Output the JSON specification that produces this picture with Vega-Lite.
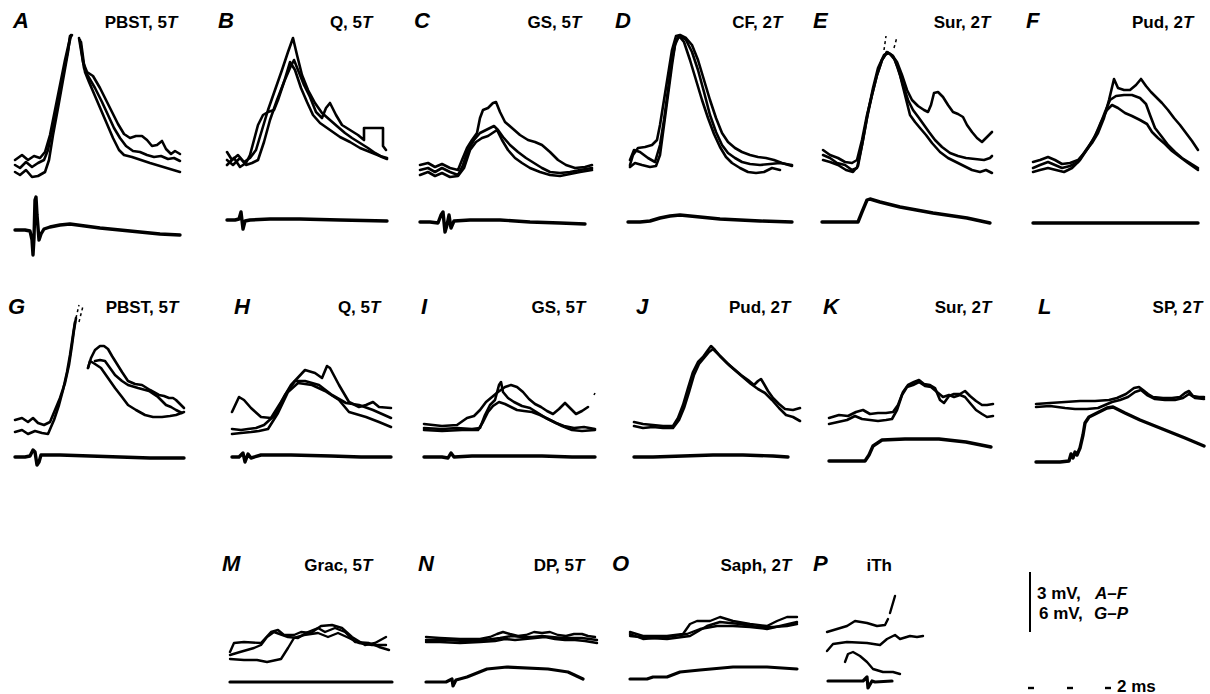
{
"$schema":"https://vega.github.io/schema/vega-lite/v6.json",
"padding":0,
"background":"white",
"config":{"view":{"stroke":null},"concat":{"spacing":4}},
"data":{"values":[
{"p":"A","k":"lt","t":13,"v":28,"tx":"A"},
{"p":"A","k":"tm","t":167,"v":28,"tx":"PBST, 5"},
{"p":"A","k":"ts","t":167,"v":28,"tx":"T"},
{"p":"B","k":"lt","t":18,"v":28,"tx":"B"},
{"p":"B","k":"tm","t":162,"v":28,"tx":"Q, 5"},
{"p":"B","k":"ts","t":162,"v":28,"tx":"T"},
{"p":"C","k":"lt","t":14,"v":28,"tx":"C"},
{"p":"C","k":"tm","t":171,"v":28,"tx":"GS, 5"},
{"p":"C","k":"ts","t":171,"v":28,"tx":"T"},
{"p":"D","k":"lt","t":15,"v":28,"tx":"D"},
{"p":"D","k":"tm","t":172,"v":28,"tx":"CF, 2"},
{"p":"D","k":"ts","t":172,"v":28,"tx":"T"},
{"p":"E","k":"lt","t":13,"v":28,"tx":"E"},
{"p":"E","k":"tm","t":180,"v":28,"tx":"Sur, 2"},
{"p":"E","k":"ts","t":180,"v":28,"tx":"T"},
{"p":"F","k":"lt","t":26,"v":28,"tx":"F"},
{"p":"F","k":"tm","t":183,"v":28,"tx":"Pud, 2"},
{"p":"F","k":"ts","t":183,"v":28,"tx":"T"},
{"p":"G","k":"lt","t":8,"v":314,"tx":"G"},
{"p":"G","k":"tm","t":168,"v":313,"tx":"PBST, 5"},
{"p":"G","k":"ts","t":168,"v":313,"tx":"T"},
{"p":"H","k":"lt","t":33,"v":314,"tx":"H"},
{"p":"H","k":"tm","t":169,"v":313,"tx":"Q, 5"},
{"p":"H","k":"ts","t":169,"v":313,"tx":"T"},
{"p":"I","k":"lt","t":19,"v":314,"tx":"I"},
{"p":"I","k":"tm","t":173,"v":313,"tx":"GS, 5"},
{"p":"I","k":"ts","t":173,"v":313,"tx":"T"},
{"p":"J","k":"lt","t":33,"v":314,"tx":"J"},
{"p":"J","k":"tm","t":177,"v":313,"tx":"Pud, 2"},
{"p":"J","k":"ts","t":177,"v":313,"tx":"T"},
{"p":"K","k":"lt","t":19,"v":314,"tx":"K"},
{"p":"K","k":"tm","t":177,"v":313,"tx":"Sur, 2"},
{"p":"K","k":"ts","t":177,"v":313,"tx":"T"},
{"p":"L","k":"lt","t":33,"v":314,"tx":"L"},
{"p":"L","k":"tm","t":187,"v":313,"tx":"SP, 2"},
{"p":"L","k":"ts","t":187,"v":313,"tx":"T"},
{"p":"0","k":"lt","t":0,"v":560,"tx":""},
{"p":"M","k":"lt","t":22,"v":567,"tx":"M"},
{"p":"M","k":"tm","t":162,"v":567,"tx":"Grac, 5"},
{"p":"M","k":"ts","t":162,"v":567,"tx":"T"},
{"p":"N","k":"lt","t":18,"v":567,"tx":"N"},
{"p":"N","k":"tm","t":174,"v":567,"tx":"DP, 5"},
{"p":"N","k":"ts","t":174,"v":567,"tx":"T"},
{"p":"O","k":"lt","t":12,"v":567,"tx":"O"},
{"p":"O","k":"tm","t":181,"v":567,"tx":"Saph, 2"},
{"p":"O","k":"ts","t":181,"v":567,"tx":"T"},
{"p":"P","k":"lt","t":13,"v":567,"tx":"P"},
{"p":"P","k":"tm","t":92,"v":567,"tx":"iTh"},
{"p":"Z","k":"bar","t":30,"v":568,"v2":628},
{"p":"Z","k":"sn","t":37,"v":595,"tx":"3 mV,"},
{"p":"Z","k":"si","t":95,"v":595,"tx":"A–F"},
{"p":"Z","k":"sn","t":39,"v":615,"tx":"6 mV,"},
{"p":"Z","k":"si","t":94,"v":615,"tx":"G–P"},
{"p":"Z","k":"dot","t":31,"v":684},
{"p":"Z","k":"dot","t":70,"v":684},
{"p":"Z","k":"dot","t":108,"v":684},
{"p":"Z","k":"sn","t":117,"v":688,"tx":"2 ms"},

{"p":"A","k":"tr","s":"a1r","t":15,"v":160},{"p":"A","k":"tr","s":"a1r","t":22,"v":155},{"p":"A","k":"tr","s":"a1r","t":28,"v":160},{"p":"A","k":"tr","s":"a1r","t":34,"v":156},{"p":"A","k":"tr","s":"a1r","t":40,"v":158},{"p":"A","k":"tr","s":"a1r","t":45,"v":152},{"p":"A","k":"tr","s":"a1r","t":50,"v":135},{"p":"A","k":"tr","s":"a1r","t":55,"v":110},{"p":"A","k":"tr","s":"a1r","t":60,"v":85},{"p":"A","k":"tr","s":"a1r","t":65,"v":60},{"p":"A","k":"tr","s":"a1r","t":70,"v":38},{"p":"A","k":"tr","s":"a1r","t":72,"v":35},
{"p":"A","k":"tr","s":"a1f","t":79,"v":38},{"p":"A","k":"tr","s":"a1f","t":83,"v":62},{"p":"A","k":"tr","s":"a1f","t":87,"v":72},{"p":"A","k":"tr","s":"a1f","t":93,"v":76},{"p":"A","k":"tr","s":"a1f","t":100,"v":88},{"p":"A","k":"tr","s":"a1f","t":106,"v":100},{"p":"A","k":"tr","s":"a1f","t":112,"v":112},{"p":"A","k":"tr","s":"a1f","t":118,"v":124},{"p":"A","k":"tr","s":"a1f","t":124,"v":134},{"p":"A","k":"tr","s":"a1f","t":130,"v":138},{"p":"A","k":"tr","s":"a1f","t":136,"v":136},{"p":"A","k":"tr","s":"a1f","t":142,"v":136},{"p":"A","k":"tr","s":"a1f","t":147,"v":140},{"p":"A","k":"tr","s":"a1f","t":152,"v":146},{"p":"A","k":"tr","s":"a1f","t":157,"v":145},{"p":"A","k":"tr","s":"a1f","t":162,"v":141},{"p":"A","k":"tr","s":"a1f","t":166,"v":149},{"p":"A","k":"tr","s":"a1f","t":171,"v":154},{"p":"A","k":"tr","s":"a1f","t":175,"v":151},{"p":"A","k":"tr","s":"a1f","t":180,"v":154},
{"p":"A","k":"tr","s":"a2r","t":15,"v":165},{"p":"A","k":"tr","s":"a2r","t":20,"v":168},{"p":"A","k":"tr","s":"a2r","t":26,"v":162},{"p":"A","k":"tr","s":"a2r","t":32,"v":167},{"p":"A","k":"tr","s":"a2r","t":38,"v":163},{"p":"A","k":"tr","s":"a2r","t":44,"v":160},{"p":"A","k":"tr","s":"a2r","t":48,"v":150},{"p":"A","k":"tr","s":"a2r","t":53,"v":125},{"p":"A","k":"tr","s":"a2r","t":58,"v":100},{"p":"A","k":"tr","s":"a2r","t":63,"v":75},{"p":"A","k":"tr","s":"a2r","t":68,"v":50},{"p":"A","k":"tr","s":"a2r","t":71,"v":35},
{"p":"A","k":"tr","s":"a2f","t":80,"v":40},{"p":"A","k":"tr","s":"a2f","t":84,"v":68},{"p":"A","k":"tr","s":"a2f","t":88,"v":76},{"p":"A","k":"tr","s":"a2f","t":95,"v":88},{"p":"A","k":"tr","s":"a2f","t":102,"v":102},{"p":"A","k":"tr","s":"a2f","t":108,"v":115},{"p":"A","k":"tr","s":"a2f","t":114,"v":128},{"p":"A","k":"tr","s":"a2f","t":120,"v":138},{"p":"A","k":"tr","s":"a2f","t":126,"v":146},{"p":"A","k":"tr","s":"a2f","t":133,"v":151},{"p":"A","k":"tr","s":"a2f","t":140,"v":152},{"p":"A","k":"tr","s":"a2f","t":147,"v":155},{"p":"A","k":"tr","s":"a2f","t":154,"v":157},{"p":"A","k":"tr","s":"a2f","t":161,"v":156},{"p":"A","k":"tr","s":"a2f","t":168,"v":159},{"p":"A","k":"tr","s":"a2f","t":174,"v":158},{"p":"A","k":"tr","s":"a2f","t":180,"v":161},
{"p":"A","k":"tr","s":"a3r","t":15,"v":172},{"p":"A","k":"tr","s":"a3r","t":20,"v":175},{"p":"A","k":"tr","s":"a3r","t":26,"v":170},{"p":"A","k":"tr","s":"a3r","t":32,"v":177},{"p":"A","k":"tr","s":"a3r","t":38,"v":176},{"p":"A","k":"tr","s":"a3r","t":45,"v":172},{"p":"A","k":"tr","s":"a3r","t":49,"v":160},{"p":"A","k":"tr","s":"a3r","t":53,"v":135},{"p":"A","k":"tr","s":"a3r","t":58,"v":108},{"p":"A","k":"tr","s":"a3r","t":63,"v":80},{"p":"A","k":"tr","s":"a3r","t":68,"v":52},{"p":"A","k":"tr","s":"a3r","t":70,"v":36},
{"p":"A","k":"tr","s":"a3f","t":81,"v":42},{"p":"A","k":"tr","s":"a3f","t":85,"v":72},{"p":"A","k":"tr","s":"a3f","t":89,"v":82},{"p":"A","k":"tr","s":"a3f","t":95,"v":96},{"p":"A","k":"tr","s":"a3f","t":101,"v":110},{"p":"A","k":"tr","s":"a3f","t":107,"v":124},{"p":"A","k":"tr","s":"a3f","t":113,"v":138},{"p":"A","k":"tr","s":"a3f","t":119,"v":150},{"p":"A","k":"tr","s":"a3f","t":124,"v":155},{"p":"A","k":"tr","s":"a3f","t":132,"v":157},{"p":"A","k":"tr","s":"a3f","t":141,"v":160},{"p":"A","k":"tr","s":"a3f","t":150,"v":163},{"p":"A","k":"tr","s":"a3f","t":160,"v":166},{"p":"A","k":"tr","s":"a3f","t":170,"v":169},{"p":"A","k":"tr","s":"a3f","t":180,"v":172},
{"p":"A","k":"cd","s":"a0","t":15,"v":230},{"p":"A","k":"cd","s":"a0","t":25,"v":230},{"p":"A","k":"cd","s":"a0","t":30,"v":231},{"p":"A","k":"cd","s":"a0","t":32,"v":240},{"p":"A","k":"cd","s":"a0","t":33,"v":255},{"p":"A","k":"cd","s":"a0","t":34,"v":238},{"p":"A","k":"cd","s":"a0","t":35,"v":200},{"p":"A","k":"cd","s":"a0","t":36,"v":197},{"p":"A","k":"cd","s":"a0","t":37,"v":215},{"p":"A","k":"cd","s":"a0","t":39,"v":240},{"p":"A","k":"cd","s":"a0","t":41,"v":234},{"p":"A","k":"cd","s":"a0","t":44,"v":229},{"p":"A","k":"cd","s":"a0","t":50,"v":227},{"p":"A","k":"cd","s":"a0","t":60,"v":225},{"p":"A","k":"cd","s":"a0","t":70,"v":224},{"p":"A","k":"cd","s":"a0","t":85,"v":226},{"p":"A","k":"cd","s":"a0","t":100,"v":228},{"p":"A","k":"cd","s":"a0","t":120,"v":230},{"p":"A","k":"cd","s":"a0","t":140,"v":232},{"p":"A","k":"cd","s":"a0","t":160,"v":234},{"p":"A","k":"cd","s":"a0","t":180,"v":235},

{"p":"B","k":"tr","s":"b1","t":27,"v":152},{"p":"B","k":"tr","s":"b1","t":32,"v":160},{"p":"B","k":"tr","s":"b1","t":38,"v":155},{"p":"B","k":"tr","s":"b1","t":44,"v":162},{"p":"B","k":"tr","s":"b1","t":50,"v":158},{"p":"B","k":"tr","s":"b1","t":56,"v":150},{"p":"B","k":"tr","s":"b1","t":62,"v":130},{"p":"B","k":"tr","s":"b1","t":68,"v":110},{"p":"B","k":"tr","s":"b1","t":75,"v":90},{"p":"B","k":"tr","s":"b1","t":82,"v":70},{"p":"B","k":"tr","s":"b1","t":88,"v":52},{"p":"B","k":"tr","s":"b1","t":93,"v":38},{"p":"B","k":"tr","s":"b1","t":97,"v":55},{"p":"B","k":"tr","s":"b1","t":102,"v":75},{"p":"B","k":"tr","s":"b1","t":108,"v":90},{"p":"B","k":"tr","s":"b1","t":115,"v":103},{"p":"B","k":"tr","s":"b1","t":122,"v":113},{"p":"B","k":"tr","s":"b1","t":130,"v":120},{"p":"B","k":"tr","s":"b1","t":138,"v":127},{"p":"B","k":"tr","s":"b1","t":145,"v":133},{"p":"B","k":"tr","s":"b1","t":152,"v":138},{"p":"B","k":"tr","s":"b1","t":160,"v":143},{"p":"B","k":"tr","s":"b1","t":168,"v":148},{"p":"B","k":"tr","s":"b1","t":175,"v":153},{"p":"B","k":"tr","s":"b1","t":182,"v":157},{"p":"B","k":"tr","s":"b1","t":187,"v":159},
{"p":"B","k":"tr","s":"b2","t":27,"v":160},{"p":"B","k":"tr","s":"b2","t":33,"v":165},{"p":"B","k":"tr","s":"b2","t":40,"v":158},{"p":"B","k":"tr","s":"b2","t":46,"v":165},{"p":"B","k":"tr","s":"b2","t":52,"v":163},{"p":"B","k":"tr","s":"b2","t":58,"v":160},{"p":"B","k":"tr","s":"b2","t":64,"v":142},{"p":"B","k":"tr","s":"b2","t":70,"v":120},{"p":"B","k":"tr","s":"b2","t":77,"v":100},{"p":"B","k":"tr","s":"b2","t":84,"v":82},{"p":"B","k":"tr","s":"b2","t":90,"v":68},{"p":"B","k":"tr","s":"b2","t":94,"v":60},{"p":"B","k":"tr","s":"b2","t":98,"v":70},{"p":"B","k":"tr","s":"b2","t":104,"v":85},{"p":"B","k":"tr","s":"b2","t":110,"v":97},{"p":"B","k":"tr","s":"b2","t":116,"v":112},{"p":"B","k":"tr","s":"b2","t":122,"v":118},{"p":"B","k":"tr","s":"b2","t":126,"v":108},{"p":"B","k":"tr","s":"b2","t":130,"v":103},{"p":"B","k":"tr","s":"b2","t":136,"v":115},{"p":"B","k":"tr","s":"b2","t":142,"v":125},{"p":"B","k":"tr","s":"b2","t":150,"v":130},{"p":"B","k":"tr","s":"b2","t":158,"v":135},{"p":"B","k":"tr","s":"b2","t":164,"v":140},{"p":"B","k":"tr","s":"b2","t":164,"v":128},{"p":"B","k":"tr","s":"b2","t":183,"v":128},{"p":"B","k":"tr","s":"b2","t":183,"v":146},{"p":"B","k":"tr","s":"b2","t":186,"v":150},
{"p":"B","k":"tr","s":"b3","t":27,"v":165},{"p":"B","k":"tr","s":"b3","t":34,"v":158},{"p":"B","k":"tr","s":"b3","t":40,"v":167},{"p":"B","k":"tr","s":"b3","t":46,"v":163},{"p":"B","k":"tr","s":"b3","t":50,"v":155},{"p":"B","k":"tr","s":"b3","t":54,"v":140},{"p":"B","k":"tr","s":"b3","t":58,"v":125},{"p":"B","k":"tr","s":"b3","t":63,"v":115},{"p":"B","k":"tr","s":"b3","t":68,"v":112},{"p":"B","k":"tr","s":"b3","t":74,"v":110},{"p":"B","k":"tr","s":"b3","t":78,"v":100},{"p":"B","k":"tr","s":"b3","t":84,"v":82},{"p":"B","k":"tr","s":"b3","t":90,"v":62},{"p":"B","k":"tr","s":"b3","t":95,"v":70},{"p":"B","k":"tr","s":"b3","t":101,"v":88},{"p":"B","k":"tr","s":"b3","t":107,"v":102},{"p":"B","k":"tr","s":"b3","t":113,"v":115},{"p":"B","k":"tr","s":"b3","t":120,"v":123},{"p":"B","k":"tr","s":"b3","t":130,"v":130},{"p":"B","k":"tr","s":"b3","t":140,"v":137},{"p":"B","k":"tr","s":"b3","t":150,"v":142},{"p":"B","k":"tr","s":"b3","t":160,"v":148},{"p":"B","k":"tr","s":"b3","t":170,"v":152},{"p":"B","k":"tr","s":"b3","t":180,"v":156},{"p":"B","k":"tr","s":"b3","t":187,"v":158},
{"p":"B","k":"cd","s":"b0","t":27,"v":220},{"p":"B","k":"cd","s":"b0","t":35,"v":220},{"p":"B","k":"cd","s":"b0","t":39,"v":219},{"p":"B","k":"cd","s":"b0","t":41,"v":212},{"p":"B","k":"cd","s":"b0","t":43,"v":229},{"p":"B","k":"cd","s":"b0","t":45,"v":221},{"p":"B","k":"cd","s":"b0","t":50,"v":220},{"p":"B","k":"cd","s":"b0","t":70,"v":219},{"p":"B","k":"cd","s":"b0","t":100,"v":219},{"p":"B","k":"cd","s":"b0","t":140,"v":220},{"p":"B","k":"cd","s":"b0","t":187,"v":221},

{"p":"C","k":"tr","s":"c1","t":20,"v":165},{"p":"C","k":"tr","s":"c1","t":28,"v":163},{"p":"C","k":"tr","s":"c1","t":35,"v":167},{"p":"C","k":"tr","s":"c1","t":42,"v":164},{"p":"C","k":"tr","s":"c1","t":50,"v":168},{"p":"C","k":"tr","s":"c1","t":58,"v":170},{"p":"C","k":"tr","s":"c1","t":62,"v":160},{"p":"C","k":"tr","s":"c1","t":67,"v":148},{"p":"C","k":"tr","s":"c1","t":72,"v":140},{"p":"C","k":"tr","s":"c1","t":77,"v":133},{"p":"C","k":"tr","s":"c1","t":80,"v":118},{"p":"C","k":"tr","s":"c1","t":83,"v":110},{"p":"C","k":"tr","s":"c1","t":88,"v":108},{"p":"C","k":"tr","s":"c1","t":93,"v":103},{"p":"C","k":"tr","s":"c1","t":96,"v":102},{"p":"C","k":"tr","s":"c1","t":100,"v":112},{"p":"C","k":"tr","s":"c1","t":105,"v":122},{"p":"C","k":"tr","s":"c1","t":112,"v":128},{"p":"C","k":"tr","s":"c1","t":120,"v":135},{"p":"C","k":"tr","s":"c1","t":128,"v":140},{"p":"C","k":"tr","s":"c1","t":135,"v":142},{"p":"C","k":"tr","s":"c1","t":142,"v":145},{"p":"C","k":"tr","s":"c1","t":150,"v":152},{"p":"C","k":"tr","s":"c1","t":158,"v":160},{"p":"C","k":"tr","s":"c1","t":166,"v":165},{"p":"C","k":"tr","s":"c1","t":175,"v":168},{"p":"C","k":"tr","s":"c1","t":185,"v":167},{"p":"C","k":"tr","s":"c1","t":192,"v":165},
{"p":"C","k":"tr","s":"c2","t":20,"v":170},{"p":"C","k":"tr","s":"c2","t":28,"v":168},{"p":"C","k":"tr","s":"c2","t":35,"v":172},{"p":"C","k":"tr","s":"c2","t":42,"v":168},{"p":"C","k":"tr","s":"c2","t":50,"v":172},{"p":"C","k":"tr","s":"c2","t":58,"v":175},{"p":"C","k":"tr","s":"c2","t":63,"v":165},{"p":"C","k":"tr","s":"c2","t":68,"v":150},{"p":"C","k":"tr","s":"c2","t":74,"v":140},{"p":"C","k":"tr","s":"c2","t":80,"v":133},{"p":"C","k":"tr","s":"c2","t":86,"v":130},{"p":"C","k":"tr","s":"c2","t":90,"v":128},{"p":"C","k":"tr","s":"c2","t":94,"v":126},{"p":"C","k":"tr","s":"c2","t":98,"v":130},{"p":"C","k":"tr","s":"c2","t":103,"v":137},{"p":"C","k":"tr","s":"c2","t":110,"v":145},{"p":"C","k":"tr","s":"c2","t":118,"v":152},{"p":"C","k":"tr","s":"c2","t":126,"v":158},{"p":"C","k":"tr","s":"c2","t":134,"v":163},{"p":"C","k":"tr","s":"c2","t":142,"v":168},{"p":"C","k":"tr","s":"c2","t":150,"v":172},{"p":"C","k":"tr","s":"c2","t":160,"v":173},{"p":"C","k":"tr","s":"c2","t":170,"v":172},{"p":"C","k":"tr","s":"c2","t":180,"v":170},{"p":"C","k":"tr","s":"c2","t":192,"v":168},
{"p":"C","k":"tr","s":"c3","t":20,"v":175},{"p":"C","k":"tr","s":"c3","t":28,"v":172},{"p":"C","k":"tr","s":"c3","t":35,"v":176},{"p":"C","k":"tr","s":"c3","t":42,"v":173},{"p":"C","k":"tr","s":"c3","t":50,"v":177},{"p":"C","k":"tr","s":"c3","t":58,"v":176},{"p":"C","k":"tr","s":"c3","t":64,"v":168},{"p":"C","k":"tr","s":"c3","t":70,"v":150},{"p":"C","k":"tr","s":"c3","t":76,"v":142},{"p":"C","k":"tr","s":"c3","t":82,"v":138},{"p":"C","k":"tr","s":"c3","t":88,"v":136},{"p":"C","k":"tr","s":"c3","t":94,"v":132},{"p":"C","k":"tr","s":"c3","t":97,"v":130},{"p":"C","k":"tr","s":"c3","t":102,"v":140},{"p":"C","k":"tr","s":"c3","t":108,"v":150},{"p":"C","k":"tr","s":"c3","t":115,"v":158},{"p":"C","k":"tr","s":"c3","t":122,"v":163},{"p":"C","k":"tr","s":"c3","t":130,"v":168},{"p":"C","k":"tr","s":"c3","t":140,"v":172},{"p":"C","k":"tr","s":"c3","t":150,"v":175},{"p":"C","k":"tr","s":"c3","t":160,"v":176},{"p":"C","k":"tr","s":"c3","t":170,"v":174},{"p":"C","k":"tr","s":"c3","t":180,"v":172},{"p":"C","k":"tr","s":"c3","t":192,"v":170},
{"p":"C","k":"cd","s":"c0","t":20,"v":222},{"p":"C","k":"cd","s":"c0","t":30,"v":222},{"p":"C","k":"cd","s":"c0","t":38,"v":223},{"p":"C","k":"cd","s":"c0","t":41,"v":215},{"p":"C","k":"cd","s":"c0","t":43,"v":212},{"p":"C","k":"cd","s":"c0","t":45,"v":232},{"p":"C","k":"cd","s":"c0","t":47,"v":225},{"p":"C","k":"cd","s":"c0","t":49,"v":215},{"p":"C","k":"cd","s":"c0","t":51,"v":228},{"p":"C","k":"cd","s":"c0","t":54,"v":221},{"p":"C","k":"cd","s":"c0","t":70,"v":220},{"p":"C","k":"cd","s":"c0","t":100,"v":220},{"p":"C","k":"cd","s":"c0","t":130,"v":222},{"p":"C","k":"cd","s":"c0","t":160,"v":223},{"p":"C","k":"cd","s":"c0","t":185,"v":224},

{"p":"D","k":"tr","s":"d1","t":30,"v":165},{"p":"D","k":"tr","s":"d1","t":33,"v":155},{"p":"D","k":"tr","s":"d1","t":38,"v":148},{"p":"D","k":"tr","s":"d1","t":45,"v":147},{"p":"D","k":"tr","s":"d1","t":52,"v":145},{"p":"D","k":"tr","s":"d1","t":57,"v":140},{"p":"D","k":"tr","s":"d1","t":60,"v":125},{"p":"D","k":"tr","s":"d1","t":64,"v":100},{"p":"D","k":"tr","s":"d1","t":68,"v":75},{"p":"D","k":"tr","s":"d1","t":72,"v":50},{"p":"D","k":"tr","s":"d1","t":76,"v":36},{"p":"D","k":"tr","s":"d1","t":80,"v":35},{"p":"D","k":"tr","s":"d1","t":86,"v":38},{"p":"D","k":"tr","s":"d1","t":92,"v":45},{"p":"D","k":"tr","s":"d1","t":98,"v":60},{"p":"D","k":"tr","s":"d1","t":104,"v":80},{"p":"D","k":"tr","s":"d1","t":110,"v":100},{"p":"D","k":"tr","s":"d1","t":116,"v":118},{"p":"D","k":"tr","s":"d1","t":122,"v":133},{"p":"D","k":"tr","s":"d1","t":128,"v":142},{"p":"D","k":"tr","s":"d1","t":135,"v":148},{"p":"D","k":"tr","s":"d1","t":142,"v":152},{"p":"D","k":"tr","s":"d1","t":150,"v":155},{"p":"D","k":"tr","s":"d1","t":158,"v":157},{"p":"D","k":"tr","s":"d1","t":166,"v":158},{"p":"D","k":"tr","s":"d1","t":174,"v":160},{"p":"D","k":"tr","s":"d1","t":182,"v":163},{"p":"D","k":"tr","s":"d1","t":192,"v":166},
{"p":"D","k":"tr","s":"d2","t":30,"v":160},{"p":"D","k":"tr","s":"d2","t":34,"v":150},{"p":"D","k":"tr","s":"d2","t":40,"v":152},{"p":"D","k":"tr","s":"d2","t":48,"v":158},{"p":"D","k":"tr","s":"d2","t":55,"v":162},{"p":"D","k":"tr","s":"d2","t":60,"v":145},{"p":"D","k":"tr","s":"d2","t":64,"v":120},{"p":"D","k":"tr","s":"d2","t":68,"v":90},{"p":"D","k":"tr","s":"d2","t":72,"v":60},{"p":"D","k":"tr","s":"d2","t":76,"v":40},{"p":"D","k":"tr","s":"d2","t":80,"v":36},{"p":"D","k":"tr","s":"d2","t":86,"v":40},{"p":"D","k":"tr","s":"d2","t":92,"v":52},{"p":"D","k":"tr","s":"d2","t":98,"v":70},{"p":"D","k":"tr","s":"d2","t":104,"v":92},{"p":"D","k":"tr","s":"d2","t":110,"v":115},{"p":"D","k":"tr","s":"d2","t":116,"v":132},{"p":"D","k":"tr","s":"d2","t":122,"v":145},{"p":"D","k":"tr","s":"d2","t":128,"v":153},{"p":"D","k":"tr","s":"d2","t":135,"v":158},{"p":"D","k":"tr","s":"d2","t":142,"v":162},{"p":"D","k":"tr","s":"d2","t":150,"v":164},{"p":"D","k":"tr","s":"d2","t":160,"v":165},{"p":"D","k":"tr","s":"d2","t":170,"v":164},{"p":"D","k":"tr","s":"d2","t":180,"v":163},{"p":"D","k":"tr","s":"d2","t":192,"v":165},
{"p":"D","k":"tr","s":"d3","t":30,"v":167},{"p":"D","k":"tr","s":"d3","t":35,"v":163},{"p":"D","k":"tr","s":"d3","t":42,"v":165},{"p":"D","k":"tr","s":"d3","t":50,"v":167},{"p":"D","k":"tr","s":"d3","t":56,"v":166},{"p":"D","k":"tr","s":"d3","t":60,"v":155},{"p":"D","k":"tr","s":"d3","t":64,"v":125},{"p":"D","k":"tr","s":"d3","t":68,"v":95},{"p":"D","k":"tr","s":"d3","t":72,"v":65},{"p":"D","k":"tr","s":"d3","t":75,"v":45},{"p":"D","k":"tr","s":"d3","t":79,"v":36},{"p":"D","k":"tr","s":"d3","t":84,"v":42},{"p":"D","k":"tr","s":"d3","t":90,"v":60},{"p":"D","k":"tr","s":"d3","t":96,"v":80},{"p":"D","k":"tr","s":"d3","t":102,"v":100},{"p":"D","k":"tr","s":"d3","t":108,"v":118},{"p":"D","k":"tr","s":"d3","t":114,"v":134},{"p":"D","k":"tr","s":"d3","t":120,"v":147},{"p":"D","k":"tr","s":"d3","t":126,"v":157},{"p":"D","k":"tr","s":"d3","t":132,"v":163},{"p":"D","k":"tr","s":"d3","t":140,"v":168},{"p":"D","k":"tr","s":"d3","t":148,"v":172},{"p":"D","k":"tr","s":"d3","t":156,"v":173},{"p":"D","k":"tr","s":"d3","t":164,"v":172},{"p":"D","k":"tr","s":"d3","t":172,"v":168},{"p":"D","k":"tr","s":"d3","t":180,"v":170},
{"p":"D","k":"cd","s":"d0","t":28,"v":222},{"p":"D","k":"cd","s":"d0","t":40,"v":222},{"p":"D","k":"cd","s":"d0","t":50,"v":221},{"p":"D","k":"cd","s":"d0","t":60,"v":218},{"p":"D","k":"cd","s":"d0","t":70,"v":216},{"p":"D","k":"cd","s":"d0","t":80,"v":215},{"p":"D","k":"cd","s":"d0","t":90,"v":216},{"p":"D","k":"cd","s":"d0","t":100,"v":217},{"p":"D","k":"cd","s":"d0","t":120,"v":219},{"p":"D","k":"cd","s":"d0","t":140,"v":220},{"p":"D","k":"cd","s":"d0","t":160,"v":221},{"p":"D","k":"cd","s":"d0","t":192,"v":222},

{"p":"E","k":"tr","s":"e1","t":23,"v":150},{"p":"E","k":"tr","s":"e1","t":30,"v":155},{"p":"E","k":"tr","s":"e1","t":38,"v":158},{"p":"E","k":"tr","s":"e1","t":45,"v":162},{"p":"E","k":"tr","s":"e1","t":52,"v":163},{"p":"E","k":"tr","s":"e1","t":57,"v":160},{"p":"E","k":"tr","s":"e1","t":62,"v":140},{"p":"E","k":"tr","s":"e1","t":67,"v":115},{"p":"E","k":"tr","s":"e1","t":72,"v":95},{"p":"E","k":"tr","s":"e1","t":77,"v":75},{"p":"E","k":"tr","s":"e1","t":82,"v":60},{"p":"E","k":"tr","s":"e1","t":87,"v":52},{"p":"E","k":"tr","s":"e1","t":92,"v":55},{"p":"E","k":"tr","s":"e1","t":97,"v":62},{"p":"E","k":"tr","s":"e1","t":102,"v":75},{"p":"E","k":"tr","s":"e1","t":107,"v":90},{"p":"E","k":"tr","s":"e1","t":112,"v":100},{"p":"E","k":"tr","s":"e1","t":118,"v":106},{"p":"E","k":"tr","s":"e1","t":124,"v":110},{"p":"E","k":"tr","s":"e1","t":128,"v":112},{"p":"E","k":"tr","s":"e1","t":131,"v":105},{"p":"E","k":"tr","s":"e1","t":134,"v":93},{"p":"E","k":"tr","s":"e1","t":138,"v":92},{"p":"E","k":"tr","s":"e1","t":143,"v":97},{"p":"E","k":"tr","s":"e1","t":148,"v":105},{"p":"E","k":"tr","s":"e1","t":153,"v":112},{"p":"E","k":"tr","s":"e1","t":158,"v":114},{"p":"E","k":"tr","s":"e1","t":163,"v":117},{"p":"E","k":"tr","s":"e1","t":167,"v":125},{"p":"E","k":"tr","s":"e1","t":172,"v":132},{"p":"E","k":"tr","s":"e1","t":177,"v":138},{"p":"E","k":"tr","s":"e1","t":182,"v":142},{"p":"E","k":"tr","s":"e1","t":187,"v":137},{"p":"E","k":"tr","s":"e1","t":192,"v":132},
{"p":"E","k":"tr","s":"e2","t":23,"v":155},{"p":"E","k":"tr","s":"e2","t":30,"v":158},{"p":"E","k":"tr","s":"e2","t":37,"v":163},{"p":"E","k":"tr","s":"e2","t":45,"v":165},{"p":"E","k":"tr","s":"e2","t":52,"v":170},{"p":"E","k":"tr","s":"e2","t":57,"v":168},{"p":"E","k":"tr","s":"e2","t":62,"v":145},{"p":"E","k":"tr","s":"e2","t":67,"v":118},{"p":"E","k":"tr","s":"e2","t":72,"v":95},{"p":"E","k":"tr","s":"e2","t":77,"v":75},{"p":"E","k":"tr","s":"e2","t":82,"v":60},{"p":"E","k":"tr","s":"e2","t":87,"v":52},{"p":"E","k":"tr","s":"e2","t":93,"v":56},{"p":"E","k":"tr","s":"e2","t":98,"v":68},{"p":"E","k":"tr","s":"e2","t":103,"v":85},{"p":"E","k":"tr","s":"e2","t":108,"v":100},{"p":"E","k":"tr","s":"e2","t":113,"v":110},{"p":"E","k":"tr","s":"e2","t":119,"v":118},{"p":"E","k":"tr","s":"e2","t":124,"v":125},{"p":"E","k":"tr","s":"e2","t":129,"v":132},{"p":"E","k":"tr","s":"e2","t":135,"v":140},{"p":"E","k":"tr","s":"e2","t":142,"v":147},{"p":"E","k":"tr","s":"e2","t":150,"v":153},{"p":"E","k":"tr","s":"e2","t":158,"v":156},{"p":"E","k":"tr","s":"e2","t":166,"v":158},{"p":"E","k":"tr","s":"e2","t":175,"v":159},{"p":"E","k":"tr","s":"e2","t":184,"v":160},{"p":"E","k":"tr","s":"e2","t":190,"v":158},{"p":"E","k":"tr","s":"e2","t":192,"v":156},
{"p":"E","k":"tr","s":"e3","t":23,"v":160},{"p":"E","k":"tr","s":"e3","t":30,"v":162},{"p":"E","k":"tr","s":"e3","t":38,"v":165},{"p":"E","k":"tr","s":"e3","t":46,"v":170},{"p":"E","k":"tr","s":"e3","t":53,"v":172},{"p":"E","k":"tr","s":"e3","t":58,"v":166},{"p":"E","k":"tr","s":"e3","t":63,"v":140},{"p":"E","k":"tr","s":"e3","t":68,"v":112},{"p":"E","k":"tr","s":"e3","t":73,"v":88},{"p":"E","k":"tr","s":"e3","t":78,"v":68},{"p":"E","k":"tr","s":"e3","t":84,"v":55},{"p":"E","k":"tr","s":"e3","t":89,"v":53},{"p":"E","k":"tr","s":"e3","t":95,"v":60},{"p":"E","k":"tr","s":"e3","t":100,"v":75},{"p":"E","k":"tr","s":"e3","t":105,"v":95},{"p":"E","k":"tr","s":"e3","t":110,"v":115},{"p":"E","k":"tr","s":"e3","t":115,"v":122},{"p":"E","k":"tr","s":"e3","t":120,"v":128},{"p":"E","k":"tr","s":"e3","t":126,"v":135},{"p":"E","k":"tr","s":"e3","t":132,"v":143},{"p":"E","k":"tr","s":"e3","t":140,"v":152},{"p":"E","k":"tr","s":"e3","t":148,"v":158},{"p":"E","k":"tr","s":"e3","t":156,"v":162},{"p":"E","k":"tr","s":"e3","t":164,"v":166},{"p":"E","k":"tr","s":"e3","t":172,"v":170},{"p":"E","k":"tr","s":"e3","t":180,"v":172},{"p":"E","k":"tr","s":"e3","t":186,"v":170},{"p":"E","k":"tr","s":"e3","t":192,"v":173},
{"p":"E","k":"ds","s":"ed1","t":84,"v":50},{"p":"E","k":"ds","s":"ed1","t":86,"v":36},
{"p":"E","k":"ds","s":"ed2","t":94,"v":48},{"p":"E","k":"ds","s":"ed2","t":97,"v":37},
{"p":"E","k":"cd","s":"e0","t":22,"v":222},{"p":"E","k":"cd","s":"e0","t":40,"v":222},{"p":"E","k":"cd","s":"e0","t":58,"v":222},{"p":"E","k":"cd","s":"e0","t":62,"v":212},{"p":"E","k":"cd","s":"e0","t":67,"v":200},{"p":"E","k":"cd","s":"e0","t":70,"v":199},{"p":"E","k":"cd","s":"e0","t":80,"v":202},{"p":"E","k":"cd","s":"e0","t":100,"v":207},{"p":"E","k":"cd","s":"e0","t":133,"v":213},{"p":"E","k":"cd","s":"e0","t":167,"v":218},{"p":"E","k":"cd","s":"e0","t":190,"v":223},

{"p":"F","k":"tr","s":"f1","t":33,"v":162},{"p":"F","k":"tr","s":"f1","t":40,"v":160},{"p":"F","k":"tr","s":"f1","t":48,"v":157},{"p":"F","k":"tr","s":"f1","t":55,"v":160},{"p":"F","k":"tr","s":"f1","t":62,"v":164},{"p":"F","k":"tr","s":"f1","t":70,"v":163},{"p":"F","k":"tr","s":"f1","t":78,"v":160},{"p":"F","k":"tr","s":"f1","t":85,"v":152},{"p":"F","k":"tr","s":"f1","t":92,"v":143},{"p":"F","k":"tr","s":"f1","t":98,"v":133},{"p":"F","k":"tr","s":"f1","t":104,"v":118},{"p":"F","k":"tr","s":"f1","t":109,"v":100},{"p":"F","k":"tr","s":"f1","t":114,"v":79},{"p":"F","k":"tr","s":"f1","t":118,"v":88},{"p":"F","k":"tr","s":"f1","t":124,"v":90},{"p":"F","k":"tr","s":"f1","t":130,"v":90},{"p":"F","k":"tr","s":"f1","t":136,"v":85},{"p":"F","k":"tr","s":"f1","t":141,"v":79},{"p":"F","k":"tr","s":"f1","t":146,"v":86},{"p":"F","k":"tr","s":"f1","t":151,"v":92},{"p":"F","k":"tr","s":"f1","t":156,"v":97},{"p":"F","k":"tr","s":"f1","t":162,"v":103},{"p":"F","k":"tr","s":"f1","t":168,"v":110},{"p":"F","k":"tr","s":"f1","t":174,"v":118},{"p":"F","k":"tr","s":"f1","t":180,"v":125},{"p":"F","k":"tr","s":"f1","t":186,"v":133},{"p":"F","k":"tr","s":"f1","t":192,"v":141},{"p":"F","k":"tr","s":"f1","t":198,"v":150},
{"p":"F","k":"tr","s":"f2","t":33,"v":168},{"p":"F","k":"tr","s":"f2","t":40,"v":165},{"p":"F","k":"tr","s":"f2","t":48,"v":162},{"p":"F","k":"tr","s":"f2","t":55,"v":165},{"p":"F","k":"tr","s":"f2","t":62,"v":168},{"p":"F","k":"tr","s":"f2","t":70,"v":166},{"p":"F","k":"tr","s":"f2","t":78,"v":162},{"p":"F","k":"tr","s":"f2","t":86,"v":150},{"p":"F","k":"tr","s":"f2","t":93,"v":140},{"p":"F","k":"tr","s":"f2","t":99,"v":128},{"p":"F","k":"tr","s":"f2","t":105,"v":112},{"p":"F","k":"tr","s":"f2","t":110,"v":100},{"p":"F","k":"tr","s":"f2","t":116,"v":96},{"p":"F","k":"tr","s":"f2","t":124,"v":95},{"p":"F","k":"tr","s":"f2","t":132,"v":95},{"p":"F","k":"tr","s":"f2","t":140,"v":98},{"p":"F","k":"tr","s":"f2","t":146,"v":104},{"p":"F","k":"tr","s":"f2","t":150,"v":115},{"p":"F","k":"tr","s":"f2","t":155,"v":128},{"p":"F","k":"tr","s":"f2","t":162,"v":137},{"p":"F","k":"tr","s":"f2","t":168,"v":145},{"p":"F","k":"tr","s":"f2","t":175,"v":152},{"p":"F","k":"tr","s":"f2","t":182,"v":158},{"p":"F","k":"tr","s":"f2","t":190,"v":163},{"p":"F","k":"tr","s":"f2","t":198,"v":168},
{"p":"F","k":"tr","s":"f3","t":33,"v":172},{"p":"F","k":"tr","s":"f3","t":40,"v":170},{"p":"F","k":"tr","s":"f3","t":48,"v":168},{"p":"F","k":"tr","s":"f3","t":56,"v":170},{"p":"F","k":"tr","s":"f3","t":64,"v":172},{"p":"F","k":"tr","s":"f3","t":72,"v":168},{"p":"F","k":"tr","s":"f3","t":80,"v":160},{"p":"F","k":"tr","s":"f3","t":88,"v":148},{"p":"F","k":"tr","s":"f3","t":95,"v":136},{"p":"F","k":"tr","s":"f3","t":101,"v":122},{"p":"F","k":"tr","s":"f3","t":107,"v":110},{"p":"F","k":"tr","s":"f3","t":112,"v":105},{"p":"F","k":"tr","s":"f3","t":118,"v":108},{"p":"F","k":"tr","s":"f3","t":125,"v":113},{"p":"F","k":"tr","s":"f3","t":132,"v":116},{"p":"F","k":"tr","s":"f3","t":140,"v":120},{"p":"F","k":"tr","s":"f3","t":147,"v":124},{"p":"F","k":"tr","s":"f3","t":152,"v":132},{"p":"F","k":"tr","s":"f3","t":158,"v":138},{"p":"F","k":"tr","s":"f3","t":165,"v":144},{"p":"F","k":"tr","s":"f3","t":172,"v":151},{"p":"F","k":"tr","s":"f3","t":180,"v":157},{"p":"F","k":"tr","s":"f3","t":188,"v":163},{"p":"F","k":"tr","s":"f3","t":198,"v":170},
{"p":"F","k":"cd","s":"f0","t":33,"v":223},{"p":"F","k":"cd","s":"f0","t":198,"v":223},

{"p":"G","k":"tr","s":"g1r","t":15,"v":420},{"p":"G","k":"tr","s":"g1r","t":22,"v":418},{"p":"G","k":"tr","s":"g1r","t":28,"v":422},{"p":"G","k":"tr","s":"g1r","t":33,"v":418},{"p":"G","k":"tr","s":"g1r","t":38,"v":423},{"p":"G","k":"tr","s":"g1r","t":44,"v":425},{"p":"G","k":"tr","s":"g1r","t":50,"v":422},{"p":"G","k":"tr","s":"g1r","t":55,"v":410},{"p":"G","k":"tr","s":"g1r","t":60,"v":398},{"p":"G","k":"tr","s":"g1r","t":65,"v":383},{"p":"G","k":"tr","s":"g1r","t":69,"v":365},{"p":"G","k":"tr","s":"g1r","t":72,"v":345},{"p":"G","k":"tr","s":"g1r","t":74,"v":330},{"p":"G","k":"tr","s":"g1r","t":76,"v":318},
{"p":"G","k":"tr","s":"g2r","t":15,"v":432},{"p":"G","k":"tr","s":"g2r","t":22,"v":430},{"p":"G","k":"tr","s":"g2r","t":28,"v":434},{"p":"G","k":"tr","s":"g2r","t":35,"v":431},{"p":"G","k":"tr","s":"g2r","t":42,"v":433},{"p":"G","k":"tr","s":"g2r","t":48,"v":434},{"p":"G","k":"tr","s":"g2r","t":54,"v":420},{"p":"G","k":"tr","s":"g2r","t":59,"v":405},{"p":"G","k":"tr","s":"g2r","t":63,"v":390},{"p":"G","k":"tr","s":"g2r","t":67,"v":372},{"p":"G","k":"tr","s":"g2r","t":70,"v":355},{"p":"G","k":"tr","s":"g2r","t":73,"v":335},{"p":"G","k":"tr","s":"g2r","t":75,"v":322},
{"p":"G","k":"ds","s":"gd1","t":76,"v":318},{"p":"G","k":"ds","s":"gd1","t":79,"v":305},
{"p":"G","k":"ds","s":"gd2","t":79,"v":322},{"p":"G","k":"ds","s":"gd2","t":83,"v":306},
{"p":"G","k":"tr","s":"g1f","t":88,"v":368},{"p":"G","k":"tr","s":"g1f","t":91,"v":358},{"p":"G","k":"tr","s":"g1f","t":95,"v":350},{"p":"G","k":"tr","s":"g1f","t":100,"v":346},{"p":"G","k":"tr","s":"g1f","t":104,"v":346},{"p":"G","k":"tr","s":"g1f","t":108,"v":349},{"p":"G","k":"tr","s":"g1f","t":112,"v":356},{"p":"G","k":"tr","s":"g1f","t":117,"v":364},{"p":"G","k":"tr","s":"g1f","t":122,"v":372},{"p":"G","k":"tr","s":"g1f","t":128,"v":381},{"p":"G","k":"tr","s":"g1f","t":135,"v":384},{"p":"G","k":"tr","s":"g1f","t":142,"v":385},{"p":"G","k":"tr","s":"g1f","t":150,"v":390},{"p":"G","k":"tr","s":"g1f","t":159,"v":395},{"p":"G","k":"tr","s":"g1f","t":164,"v":396},{"p":"G","k":"tr","s":"g1f","t":169,"v":398},{"p":"G","k":"tr","s":"g1f","t":173,"v":398},{"p":"G","k":"tr","s":"g1f","t":176,"v":400},{"p":"G","k":"tr","s":"g1f","t":180,"v":404},{"p":"G","k":"tr","s":"g1f","t":184,"v":408},
{"p":"G","k":"tr","s":"g2f","t":95,"v":361},{"p":"G","k":"tr","s":"g2f","t":100,"v":360},{"p":"G","k":"tr","s":"g2f","t":105,"v":361},{"p":"G","k":"tr","s":"g2f","t":110,"v":368},{"p":"G","k":"tr","s":"g2f","t":115,"v":375},{"p":"G","k":"tr","s":"g2f","t":122,"v":381},{"p":"G","k":"tr","s":"g2f","t":128,"v":385},{"p":"G","k":"tr","s":"g2f","t":138,"v":388},{"p":"G","k":"tr","s":"g2f","t":149,"v":391},{"p":"G","k":"tr","s":"g2f","t":158,"v":397},{"p":"G","k":"tr","s":"g2f","t":166,"v":405},{"p":"G","k":"tr","s":"g2f","t":171,"v":407},{"p":"G","k":"tr","s":"g2f","t":176,"v":410},{"p":"G","k":"tr","s":"g2f","t":182,"v":413},
{"p":"G","k":"tr","s":"g3f","t":88,"v":368},{"p":"G","k":"tr","s":"g3f","t":90,"v":361},{"p":"G","k":"tr","s":"g3f","t":95,"v":364},{"p":"G","k":"tr","s":"g3f","t":101,"v":368},{"p":"G","k":"tr","s":"g3f","t":108,"v":378},{"p":"G","k":"tr","s":"g3f","t":115,"v":388},{"p":"G","k":"tr","s":"g3f","t":122,"v":397},{"p":"G","k":"tr","s":"g3f","t":128,"v":405},{"p":"G","k":"tr","s":"g3f","t":136,"v":410},{"p":"G","k":"tr","s":"g3f","t":145,"v":415},{"p":"G","k":"tr","s":"g3f","t":153,"v":417},{"p":"G","k":"tr","s":"g3f","t":162,"v":417},{"p":"G","k":"tr","s":"g3f","t":170,"v":416},{"p":"G","k":"tr","s":"g3f","t":176,"v":415},{"p":"G","k":"tr","s":"g3f","t":184,"v":412},
{"p":"G","k":"cd","s":"g0","t":15,"v":457},{"p":"G","k":"cd","s":"g0","t":25,"v":457},{"p":"G","k":"cd","s":"g0","t":30,"v":456},{"p":"G","k":"cd","s":"g0","t":33,"v":450},{"p":"G","k":"cd","s":"g0","t":35,"v":452},{"p":"G","k":"cd","s":"g0","t":37,"v":465},{"p":"G","k":"cd","s":"g0","t":39,"v":462},{"p":"G","k":"cd","s":"g0","t":41,"v":455},{"p":"G","k":"cd","s":"g0","t":45,"v":455},{"p":"G","k":"cd","s":"g0","t":60,"v":455},{"p":"G","k":"cd","s":"g0","t":90,"v":456},{"p":"G","k":"cd","s":"g0","t":120,"v":457},{"p":"G","k":"cd","s":"g0","t":150,"v":458},{"p":"G","k":"cd","s":"g0","t":184,"v":458},

{"p":"H","k":"tr","s":"h1","t":31,"v":412},{"p":"H","k":"tr","s":"h1","t":38,"v":397},{"p":"H","k":"tr","s":"h1","t":43,"v":400},{"p":"H","k":"tr","s":"h1","t":50,"v":408},{"p":"H","k":"tr","s":"h1","t":60,"v":417},{"p":"H","k":"tr","s":"h1","t":70,"v":418},{"p":"H","k":"tr","s":"h1","t":80,"v":402},{"p":"H","k":"tr","s":"h1","t":90,"v":385},{"p":"H","k":"tr","s":"h1","t":104,"v":370},{"p":"H","k":"tr","s":"h1","t":114,"v":373},{"p":"H","k":"tr","s":"h1","t":121,"v":378},{"p":"H","k":"tr","s":"h1","t":126,"v":366},{"p":"H","k":"tr","s":"h1","t":129,"v":368},{"p":"H","k":"tr","s":"h1","t":138,"v":385},{"p":"H","k":"tr","s":"h1","t":148,"v":402},{"p":"H","k":"tr","s":"h1","t":158,"v":407},{"p":"H","k":"tr","s":"h1","t":165,"v":405},{"p":"H","k":"tr","s":"h1","t":172,"v":402},{"p":"H","k":"tr","s":"h1","t":178,"v":407},{"p":"H","k":"tr","s":"h1","t":190,"v":408},
{"p":"H","k":"tr","s":"h2","t":31,"v":429},{"p":"H","k":"tr","s":"h2","t":40,"v":430},{"p":"H","k":"tr","s":"h2","t":47,"v":429},{"p":"H","k":"tr","s":"h2","t":55,"v":428},{"p":"H","k":"tr","s":"h2","t":63,"v":425},{"p":"H","k":"tr","s":"h2","t":74,"v":415},{"p":"H","k":"tr","s":"h2","t":84,"v":395},{"p":"H","k":"tr","s":"h2","t":94,"v":381},{"p":"H","k":"tr","s":"h2","t":104,"v":381},{"p":"H","k":"tr","s":"h2","t":118,"v":385},{"p":"H","k":"tr","s":"h2","t":131,"v":395},{"p":"H","k":"tr","s":"h2","t":145,"v":403},{"p":"H","k":"tr","s":"h2","t":158,"v":405},{"p":"H","k":"tr","s":"h2","t":172,"v":410},{"p":"H","k":"tr","s":"h2","t":190,"v":418},
{"p":"H","k":"tr","s":"h3","t":31,"v":434},{"p":"H","k":"tr","s":"h3","t":40,"v":433},{"p":"H","k":"tr","s":"h3","t":50,"v":432},{"p":"H","k":"tr","s":"h3","t":58,"v":431},{"p":"H","k":"tr","s":"h3","t":67,"v":429},{"p":"H","k":"tr","s":"h3","t":77,"v":413},{"p":"H","k":"tr","s":"h3","t":87,"v":392},{"p":"H","k":"tr","s":"h3","t":97,"v":383},{"p":"H","k":"tr","s":"h3","t":111,"v":385},{"p":"H","k":"tr","s":"h3","t":124,"v":391},{"p":"H","k":"tr","s":"h3","t":138,"v":400},{"p":"H","k":"tr","s":"h3","t":148,"v":412},{"p":"H","k":"tr","s":"h3","t":165,"v":417},{"p":"H","k":"tr","s":"h3","t":178,"v":422},{"p":"H","k":"tr","s":"h3","t":190,"v":427},
{"p":"H","k":"cd","s":"h0","t":31,"v":457},{"p":"H","k":"cd","s":"h0","t":38,"v":457},{"p":"H","k":"cd","s":"h0","t":42,"v":453},{"p":"H","k":"cd","s":"h0","t":44,"v":462},{"p":"H","k":"cd","s":"h0","t":47,"v":454},{"p":"H","k":"cd","s":"h0","t":50,"v":458},{"p":"H","k":"cd","s":"h0","t":60,"v":455},{"p":"H","k":"cd","s":"h0","t":90,"v":455},{"p":"H","k":"cd","s":"h0","t":130,"v":456},{"p":"H","k":"cd","s":"h0","t":160,"v":457},{"p":"H","k":"cd","s":"h0","t":190,"v":457},

{"p":"I","k":"tr","s":"i1","t":22,"v":424},{"p":"I","k":"tr","s":"i1","t":40,"v":426},{"p":"I","k":"tr","s":"i1","t":55,"v":425},{"p":"I","k":"tr","s":"i1","t":65,"v":418},{"p":"I","k":"tr","s":"i1","t":72,"v":416},{"p":"I","k":"tr","s":"i1","t":78,"v":410},{"p":"I","k":"tr","s":"i1","t":84,"v":402},{"p":"I","k":"tr","s":"i1","t":90,"v":397},{"p":"I","k":"tr","s":"i1","t":96,"v":392},{"p":"I","k":"tr","s":"i1","t":103,"v":387},{"p":"I","k":"tr","s":"i1","t":109,"v":385},{"p":"I","k":"tr","s":"i1","t":115,"v":387},{"p":"I","k":"tr","s":"i1","t":121,"v":392},{"p":"I","k":"tr","s":"i1","t":127,"v":399},{"p":"I","k":"tr","s":"i1","t":133,"v":404},{"p":"I","k":"tr","s":"i1","t":139,"v":407},{"p":"I","k":"tr","s":"i1","t":145,"v":411},{"p":"I","k":"tr","s":"i1","t":151,"v":414},{"p":"I","k":"tr","s":"i1","t":157,"v":409},{"p":"I","k":"tr","s":"i1","t":163,"v":403},{"p":"I","k":"tr","s":"i1","t":168,"v":408},{"p":"I","k":"tr","s":"i1","t":174,"v":414},{"p":"I","k":"tr","s":"i1","t":180,"v":411},{"p":"I","k":"tr","s":"i1","t":186,"v":407},
{"p":"I","k":"tr","s":"i2","t":22,"v":428},{"p":"I","k":"tr","s":"i2","t":40,"v":429},{"p":"I","k":"tr","s":"i2","t":55,"v":428},{"p":"I","k":"tr","s":"i2","t":70,"v":429},{"p":"I","k":"tr","s":"i2","t":78,"v":428},{"p":"I","k":"tr","s":"i2","t":83,"v":415},{"p":"I","k":"tr","s":"i2","t":88,"v":405},{"p":"I","k":"tr","s":"i2","t":93,"v":400},{"p":"I","k":"tr","s":"i2","t":97,"v":385},{"p":"I","k":"tr","s":"i2","t":99,"v":382},{"p":"I","k":"tr","s":"i2","t":101,"v":392},{"p":"I","k":"tr","s":"i2","t":106,"v":398},{"p":"I","k":"tr","s":"i2","t":112,"v":402},{"p":"I","k":"tr","s":"i2","t":120,"v":406},{"p":"I","k":"tr","s":"i2","t":128,"v":408},{"p":"I","k":"tr","s":"i2","t":136,"v":413},{"p":"I","k":"tr","s":"i2","t":144,"v":418},{"p":"I","k":"tr","s":"i2","t":152,"v":422},{"p":"I","k":"tr","s":"i2","t":160,"v":426},{"p":"I","k":"tr","s":"i2","t":170,"v":430},{"p":"I","k":"tr","s":"i2","t":180,"v":431},{"p":"I","k":"tr","s":"i2","t":193,"v":430},
{"p":"I","k":"tr","s":"i3","t":22,"v":430},{"p":"I","k":"tr","s":"i3","t":40,"v":431},{"p":"I","k":"tr","s":"i3","t":60,"v":430},{"p":"I","k":"tr","s":"i3","t":76,"v":430},{"p":"I","k":"tr","s":"i3","t":81,"v":422},{"p":"I","k":"tr","s":"i3","t":86,"v":412},{"p":"I","k":"tr","s":"i3","t":91,"v":406},{"p":"I","k":"tr","s":"i3","t":97,"v":402},{"p":"I","k":"tr","s":"i3","t":103,"v":404},{"p":"I","k":"tr","s":"i3","t":109,"v":407},{"p":"I","k":"tr","s":"i3","t":115,"v":410},{"p":"I","k":"tr","s":"i3","t":122,"v":411},{"p":"I","k":"tr","s":"i3","t":130,"v":412},{"p":"I","k":"tr","s":"i3","t":138,"v":415},{"p":"I","k":"tr","s":"i3","t":146,"v":419},{"p":"I","k":"tr","s":"i3","t":154,"v":423},{"p":"I","k":"tr","s":"i3","t":162,"v":426},{"p":"I","k":"tr","s":"i3","t":172,"v":428},{"p":"I","k":"tr","s":"i3","t":182,"v":427},{"p":"I","k":"tr","s":"i3","t":193,"v":429},
{"p":"I","k":"ds","s":"id","t":192,"v":395},{"p":"I","k":"ds","s":"id","t":193,"v":393},
{"p":"I","k":"cd","s":"i0","t":22,"v":457},{"p":"I","k":"cd","s":"i0","t":40,"v":457},{"p":"I","k":"cd","s":"i0","t":46,"v":458},{"p":"I","k":"cd","s":"i0","t":49,"v":453},{"p":"I","k":"cd","s":"i0","t":52,"v":457},{"p":"I","k":"cd","s":"i0","t":70,"v":456},{"p":"I","k":"cd","s":"i0","t":100,"v":456},{"p":"I","k":"cd","s":"i0","t":140,"v":456},{"p":"I","k":"cd","s":"i0","t":170,"v":457},{"p":"I","k":"cd","s":"i0","t":193,"v":457},

{"p":"J","k":"tr","s":"j1","t":31,"v":422},{"p":"J","k":"tr","s":"j1","t":40,"v":424},{"p":"J","k":"tr","s":"j1","t":50,"v":425},{"p":"J","k":"tr","s":"j1","t":60,"v":426},{"p":"J","k":"tr","s":"j1","t":70,"v":426},{"p":"J","k":"tr","s":"j1","t":75,"v":418},{"p":"J","k":"tr","s":"j1","t":80,"v":405},{"p":"J","k":"tr","s":"j1","t":85,"v":388},{"p":"J","k":"tr","s":"j1","t":90,"v":372},{"p":"J","k":"tr","s":"j1","t":95,"v":362},{"p":"J","k":"tr","s":"j1","t":100,"v":357},{"p":"J","k":"tr","s":"j1","t":105,"v":350},{"p":"J","k":"tr","s":"j1","t":108,"v":346},{"p":"J","k":"tr","s":"j1","t":112,"v":350},{"p":"J","k":"tr","s":"j1","t":117,"v":356},{"p":"J","k":"tr","s":"j1","t":124,"v":363},{"p":"J","k":"tr","s":"j1","t":131,"v":369},{"p":"J","k":"tr","s":"j1","t":138,"v":375},{"p":"J","k":"tr","s":"j1","t":145,"v":380},{"p":"J","k":"tr","s":"j1","t":151,"v":385},{"p":"J","k":"tr","s":"j1","t":155,"v":381},{"p":"J","k":"tr","s":"j1","t":158,"v":379},{"p":"J","k":"tr","s":"j1","t":161,"v":384},{"p":"J","k":"tr","s":"j1","t":165,"v":391},{"p":"J","k":"tr","s":"j1","t":170,"v":398},{"p":"J","k":"tr","s":"j1","t":176,"v":404},{"p":"J","k":"tr","s":"j1","t":182,"v":409},{"p":"J","k":"tr","s":"j1","t":190,"v":410},{"p":"J","k":"tr","s":"j1","t":197,"v":408},
{"p":"J","k":"tr","s":"j2","t":31,"v":426},{"p":"J","k":"tr","s":"j2","t":40,"v":428},{"p":"J","k":"tr","s":"j2","t":50,"v":427},{"p":"J","k":"tr","s":"j2","t":60,"v":428},{"p":"J","k":"tr","s":"j2","t":70,"v":428},{"p":"J","k":"tr","s":"j2","t":76,"v":420},{"p":"J","k":"tr","s":"j2","t":81,"v":408},{"p":"J","k":"tr","s":"j2","t":86,"v":392},{"p":"J","k":"tr","s":"j2","t":91,"v":375},{"p":"J","k":"tr","s":"j2","t":96,"v":364},{"p":"J","k":"tr","s":"j2","t":101,"v":358},{"p":"J","k":"tr","s":"j2","t":106,"v":352},{"p":"J","k":"tr","s":"j2","t":110,"v":349},{"p":"J","k":"tr","s":"j2","t":114,"v":353},{"p":"J","k":"tr","s":"j2","t":120,"v":359},{"p":"J","k":"tr","s":"j2","t":127,"v":366},{"p":"J","k":"tr","s":"j2","t":134,"v":372},{"p":"J","k":"tr","s":"j2","t":141,"v":378},{"p":"J","k":"tr","s":"j2","t":148,"v":384},{"p":"J","k":"tr","s":"j2","t":155,"v":389},{"p":"J","k":"tr","s":"j2","t":162,"v":393},{"p":"J","k":"tr","s":"j2","t":169,"v":400},{"p":"J","k":"tr","s":"j2","t":176,"v":408},{"p":"J","k":"tr","s":"j2","t":183,"v":415},{"p":"J","k":"tr","s":"j2","t":190,"v":417},{"p":"J","k":"tr","s":"j2","t":197,"v":421},
{"p":"J","k":"cd","s":"j0","t":31,"v":457},{"p":"J","k":"cd","s":"j0","t":50,"v":457},{"p":"J","k":"cd","s":"j0","t":80,"v":456},{"p":"J","k":"cd","s":"j0","t":110,"v":455},{"p":"J","k":"cd","s":"j0","t":140,"v":455},{"p":"J","k":"cd","s":"j0","t":170,"v":456},{"p":"J","k":"cd","s":"j0","t":185,"v":457},

{"p":"K","k":"tr","s":"k1","t":25,"v":418},{"p":"K","k":"tr","s":"k1","t":35,"v":415},{"p":"K","k":"tr","s":"k1","t":44,"v":416},{"p":"K","k":"tr","s":"k1","t":52,"v":412},{"p":"K","k":"tr","s":"k1","t":59,"v":410},{"p":"K","k":"tr","s":"k1","t":66,"v":414},{"p":"K","k":"tr","s":"k1","t":74,"v":413},{"p":"K","k":"tr","s":"k1","t":82,"v":413},{"p":"K","k":"tr","s":"k1","t":89,"v":412},{"p":"K","k":"tr","s":"k1","t":94,"v":405},{"p":"K","k":"tr","s":"k1","t":99,"v":392},{"p":"K","k":"tr","s":"k1","t":104,"v":385},{"p":"K","k":"tr","s":"k1","t":110,"v":382},{"p":"K","k":"tr","s":"k1","t":115,"v":380},{"p":"K","k":"tr","s":"k1","t":120,"v":384},{"p":"K","k":"tr","s":"k1","t":126,"v":385},{"p":"K","k":"tr","s":"k1","t":131,"v":388},{"p":"K","k":"tr","s":"k1","t":136,"v":400},{"p":"K","k":"tr","s":"k1","t":140,"v":403},{"p":"K","k":"tr","s":"k1","t":145,"v":396},{"p":"K","k":"tr","s":"k1","t":150,"v":394},{"p":"K","k":"tr","s":"k1","t":156,"v":394},{"p":"K","k":"tr","s":"k1","t":161,"v":391},{"p":"K","k":"tr","s":"k1","t":166,"v":396},{"p":"K","k":"tr","s":"k1","t":172,"v":401},{"p":"K","k":"tr","s":"k1","t":178,"v":405},{"p":"K","k":"tr","s":"k1","t":183,"v":405},{"p":"K","k":"tr","s":"k1","t":189,"v":404},
{"p":"K","k":"tr","s":"k2","t":25,"v":424},{"p":"K","k":"tr","s":"k2","t":34,"v":422},{"p":"K","k":"tr","s":"k2","t":43,"v":420},{"p":"K","k":"tr","s":"k2","t":51,"v":416},{"p":"K","k":"tr","s":"k2","t":58,"v":419},{"p":"K","k":"tr","s":"k2","t":66,"v":420},{"p":"K","k":"tr","s":"k2","t":74,"v":421},{"p":"K","k":"tr","s":"k2","t":82,"v":420},{"p":"K","k":"tr","s":"k2","t":88,"v":419},{"p":"K","k":"tr","s":"k2","t":93,"v":410},{"p":"K","k":"tr","s":"k2","t":98,"v":395},{"p":"K","k":"tr","s":"k2","t":103,"v":387},{"p":"K","k":"tr","s":"k2","t":109,"v":385},{"p":"K","k":"tr","s":"k2","t":115,"v":382},{"p":"K","k":"tr","s":"k2","t":121,"v":386},{"p":"K","k":"tr","s":"k2","t":127,"v":387},{"p":"K","k":"tr","s":"k2","t":133,"v":392},{"p":"K","k":"tr","s":"k2","t":139,"v":397},{"p":"K","k":"tr","s":"k2","t":145,"v":395},{"p":"K","k":"tr","s":"k2","t":150,"v":397},{"p":"K","k":"tr","s":"k2","t":156,"v":395},{"p":"K","k":"tr","s":"k2","t":161,"v":397},{"p":"K","k":"tr","s":"k2","t":166,"v":403},{"p":"K","k":"tr","s":"k2","t":172,"v":410},{"p":"K","k":"tr","s":"k2","t":178,"v":414},{"p":"K","k":"tr","s":"k2","t":183,"v":417},{"p":"K","k":"tr","s":"k2","t":189,"v":416},
{"p":"K","k":"cd","s":"k0","t":25,"v":461},{"p":"K","k":"cd","s":"k0","t":40,"v":461},{"p":"K","k":"cd","s":"k0","t":61,"v":461},{"p":"K","k":"cd","s":"k0","t":65,"v":455},{"p":"K","k":"cd","s":"k0","t":69,"v":446},{"p":"K","k":"cd","s":"k0","t":78,"v":440},{"p":"K","k":"cd","s":"k0","t":101,"v":439},{"p":"K","k":"cd","s":"k0","t":135,"v":439},{"p":"K","k":"cd","s":"k0","t":162,"v":442},{"p":"K","k":"cd","s":"k0","t":187,"v":447},

{"p":"L","k":"tr","s":"l1","t":31,"v":404},{"p":"L","k":"tr","s":"l1","t":45,"v":403},{"p":"L","k":"tr","s":"l1","t":60,"v":402},{"p":"L","k":"tr","s":"l1","t":75,"v":401},{"p":"L","k":"tr","s":"l1","t":90,"v":401},{"p":"L","k":"tr","s":"l1","t":104,"v":400},{"p":"L","k":"tr","s":"l1","t":112,"v":398},{"p":"L","k":"tr","s":"l1","t":121,"v":394},{"p":"L","k":"tr","s":"l1","t":129,"v":388},{"p":"L","k":"tr","s":"l1","t":134,"v":387},{"p":"L","k":"tr","s":"l1","t":138,"v":390},{"p":"L","k":"tr","s":"l1","t":143,"v":394},{"p":"L","k":"tr","s":"l1","t":148,"v":397},{"p":"L","k":"tr","s":"l1","t":158,"v":398},{"p":"L","k":"tr","s":"l1","t":167,"v":398},{"p":"L","k":"tr","s":"l1","t":175,"v":397},{"p":"L","k":"tr","s":"l1","t":180,"v":393},{"p":"L","k":"tr","s":"l1","t":184,"v":391},{"p":"L","k":"tr","s":"l1","t":188,"v":396},{"p":"L","k":"tr","s":"l1","t":194,"v":397},{"p":"L","k":"tr","s":"l1","t":199,"v":397},
{"p":"L","k":"tr","s":"l2","t":31,"v":407},{"p":"L","k":"tr","s":"l2","t":45,"v":406},{"p":"L","k":"tr","s":"l2","t":60,"v":408},{"p":"L","k":"tr","s":"l2","t":70,"v":409},{"p":"L","k":"tr","s":"l2","t":82,"v":409},{"p":"L","k":"tr","s":"l2","t":93,"v":408},{"p":"L","k":"tr","s":"l2","t":100,"v":405},{"p":"L","k":"tr","s":"l2","t":107,"v":402},{"p":"L","k":"tr","s":"l2","t":115,"v":400},{"p":"L","k":"tr","s":"l2","t":123,"v":397},{"p":"L","k":"tr","s":"l2","t":130,"v":392},{"p":"L","k":"tr","s":"l2","t":136,"v":390},{"p":"L","k":"tr","s":"l2","t":142,"v":395},{"p":"L","k":"tr","s":"l2","t":150,"v":399},{"p":"L","k":"tr","s":"l2","t":160,"v":400},{"p":"L","k":"tr","s":"l2","t":170,"v":400},{"p":"L","k":"tr","s":"l2","t":178,"v":398},{"p":"L","k":"tr","s":"l2","t":184,"v":394},{"p":"L","k":"tr","s":"l2","t":190,"v":398},{"p":"L","k":"tr","s":"l2","t":199,"v":399},
{"p":"L","k":"cd","s":"l3","t":31,"v":462},{"p":"L","k":"cd","s":"l3","t":45,"v":462},{"p":"L","k":"cd","s":"l3","t":55,"v":462},{"p":"L","k":"cd","s":"l3","t":64,"v":461},{"p":"L","k":"cd","s":"l3","t":66,"v":454},{"p":"L","k":"cd","s":"l3","t":68,"v":458},{"p":"L","k":"cd","s":"l3","t":70,"v":452},{"p":"L","k":"cd","s":"l3","t":72,"v":455},{"p":"L","k":"cd","s":"l3","t":75,"v":448},{"p":"L","k":"cd","s":"l3","t":78,"v":435},{"p":"L","k":"cd","s":"l3","t":80,"v":423},{"p":"L","k":"cd","s":"l3","t":84,"v":417},{"p":"L","k":"cd","s":"l3","t":90,"v":414},{"p":"L","k":"cd","s":"l3","t":96,"v":411},{"p":"L","k":"cd","s":"l3","t":102,"v":408},{"p":"L","k":"cd","s":"l3","t":108,"v":407},{"p":"L","k":"cd","s":"l3","t":120,"v":413},{"p":"L","k":"cd","s":"l3","t":135,"v":420},{"p":"L","k":"cd","s":"l3","t":150,"v":426},{"p":"L","k":"cd","s":"l3","t":165,"v":432},{"p":"L","k":"cd","s":"l3","t":180,"v":438},{"p":"L","k":"cd","s":"l3","t":199,"v":446},

{"p":"M","k":"tr","s":"m1","t":30,"v":648},{"p":"M","k":"tr","s":"m1","t":34,"v":639},{"p":"M","k":"tr","s":"m1","t":44,"v":638},{"p":"M","k":"tr","s":"m1","t":61,"v":639},{"p":"M","k":"tr","s":"m1","t":71,"v":628},{"p":"M","k":"tr","s":"m1","t":78,"v":626},{"p":"M","k":"tr","s":"m1","t":84,"v":631},{"p":"M","k":"tr","s":"m1","t":94,"v":631},{"p":"M","k":"tr","s":"m1","t":101,"v":628},{"p":"M","k":"tr","s":"m1","t":111,"v":629},{"p":"M","k":"tr","s":"m1","t":121,"v":622},{"p":"M","k":"tr","s":"m1","t":132,"v":621},{"p":"M","k":"tr","s":"m1","t":142,"v":624},{"p":"M","k":"tr","s":"m1","t":152,"v":633},{"p":"M","k":"tr","s":"m1","t":165,"v":641},{"p":"M","k":"tr","s":"m1","t":175,"v":639},{"p":"M","k":"tr","s":"m1","t":186,"v":633},
{"p":"M","k":"tr","s":"m2","t":30,"v":651},{"p":"M","k":"tr","s":"m2","t":40,"v":648},{"p":"M","k":"tr","s":"m2","t":54,"v":644},{"p":"M","k":"tr","s":"m2","t":61,"v":641},{"p":"M","k":"tr","s":"m2","t":67,"v":633},{"p":"M","k":"tr","s":"m2","t":74,"v":628},{"p":"M","k":"tr","s":"m2","t":88,"v":633},{"p":"M","k":"tr","s":"m2","t":98,"v":634},{"p":"M","k":"tr","s":"m2","t":108,"v":628},{"p":"M","k":"tr","s":"m2","t":118,"v":624},{"p":"M","k":"tr","s":"m2","t":125,"v":628},{"p":"M","k":"tr","s":"m2","t":135,"v":624},{"p":"M","k":"tr","s":"m2","t":145,"v":628},{"p":"M","k":"tr","s":"m2","t":155,"v":638},{"p":"M","k":"tr","s":"m2","t":169,"v":639},{"p":"M","k":"tr","s":"m2","t":179,"v":643},{"p":"M","k":"tr","s":"m2","t":189,"v":646},
{"p":"M","k":"tr","s":"m3","t":30,"v":655},{"p":"M","k":"tr","s":"m3","t":44,"v":656},{"p":"M","k":"tr","s":"m3","t":57,"v":656},{"p":"M","k":"tr","s":"m3","t":67,"v":658},{"p":"M","k":"tr","s":"m3","t":81,"v":655},{"p":"M","k":"tr","s":"m3","t":88,"v":644},{"p":"M","k":"tr","s":"m3","t":94,"v":634},{"p":"M","k":"tr","s":"m3","t":104,"v":631},{"p":"M","k":"tr","s":"m3","t":118,"v":629},{"p":"M","k":"tr","s":"m3","t":128,"v":633},{"p":"M","k":"tr","s":"m3","t":138,"v":629},{"p":"M","k":"tr","s":"m3","t":149,"v":634},{"p":"M","k":"tr","s":"m3","t":159,"v":639},{"p":"M","k":"tr","s":"m3","t":172,"v":641},{"p":"M","k":"tr","s":"m3","t":186,"v":641},
{"p":"M","k":"cd","s":"m0","t":30,"v":678},{"p":"M","k":"cd","s":"m0","t":110,"v":678},{"p":"M","k":"cd","s":"m0","t":192,"v":678},

{"p":"N","k":"tr","s":"n1","t":26,"v":633},{"p":"N","k":"tr","s":"n1","t":40,"v":634},{"p":"N","k":"tr","s":"n1","t":60,"v":635},{"p":"N","k":"tr","s":"n1","t":80,"v":635},{"p":"N","k":"tr","s":"n1","t":90,"v":633},{"p":"N","k":"tr","s":"n1","t":97,"v":630},{"p":"N","k":"tr","s":"n1","t":103,"v":628},{"p":"N","k":"tr","s":"n1","t":110,"v":630},{"p":"N","k":"tr","s":"n1","t":118,"v":632},{"p":"N","k":"tr","s":"n1","t":126,"v":631},{"p":"N","k":"tr","s":"n1","t":134,"v":628},{"p":"N","k":"tr","s":"n1","t":142,"v":629},{"p":"N","k":"tr","s":"n1","t":150,"v":628},{"p":"N","k":"tr","s":"n1","t":158,"v":631},{"p":"N","k":"tr","s":"n1","t":166,"v":632},{"p":"N","k":"tr","s":"n1","t":174,"v":630},{"p":"N","k":"tr","s":"n1","t":182,"v":630},{"p":"N","k":"tr","s":"n1","t":188,"v":632},{"p":"N","k":"tr","s":"n1","t":195,"v":633},
{"p":"N","k":"tr","s":"n2","t":26,"v":638},{"p":"N","k":"tr","s":"n2","t":40,"v":638},{"p":"N","k":"tr","s":"n2","t":60,"v":639},{"p":"N","k":"tr","s":"n2","t":80,"v":638},{"p":"N","k":"tr","s":"n2","t":95,"v":637},{"p":"N","k":"tr","s":"n2","t":105,"v":635},{"p":"N","k":"tr","s":"n2","t":115,"v":636},{"p":"N","k":"tr","s":"n2","t":125,"v":635},{"p":"N","k":"tr","s":"n2","t":135,"v":634},{"p":"N","k":"tr","s":"n2","t":145,"v":633},{"p":"N","k":"tr","s":"n2","t":155,"v":635},{"p":"N","k":"tr","s":"n2","t":165,"v":636},{"p":"N","k":"tr","s":"n2","t":175,"v":636},{"p":"N","k":"tr","s":"n2","t":185,"v":637},{"p":"N","k":"tr","s":"n2","t":197,"v":639},
{"p":"N","k":"tr","s":"n3","t":26,"v":636},{"p":"N","k":"tr","s":"n3","t":45,"v":636},{"p":"N","k":"tr","s":"n3","t":65,"v":637},{"p":"N","k":"tr","s":"n3","t":85,"v":636},{"p":"N","k":"tr","s":"n3","t":100,"v":634},{"p":"N","k":"tr","s":"n3","t":112,"v":632},{"p":"N","k":"tr","s":"n3","t":122,"v":633},{"p":"N","k":"tr","s":"n3","t":132,"v":633},{"p":"N","k":"tr","s":"n3","t":142,"v":632},{"p":"N","k":"tr","s":"n3","t":152,"v":633},{"p":"N","k":"tr","s":"n3","t":162,"v":634},{"p":"N","k":"tr","s":"n3","t":172,"v":634},{"p":"N","k":"tr","s":"n3","t":182,"v":634},{"p":"N","k":"tr","s":"n3","t":197,"v":636},
{"p":"N","k":"cd","s":"n0","t":26,"v":678},{"p":"N","k":"cd","s":"n0","t":46,"v":678},{"p":"N","k":"cd","s":"n0","t":52,"v":675},{"p":"N","k":"cd","s":"n0","t":53,"v":682},{"p":"N","k":"cd","s":"n0","t":56,"v":676},{"p":"N","k":"cd","s":"n0","t":67,"v":673},{"p":"N","k":"cd","s":"n0","t":87,"v":665},{"p":"N","k":"cd","s":"n0","t":107,"v":663},{"p":"N","k":"cd","s":"n0","t":148,"v":665},{"p":"N","k":"cd","s":"n0","t":168,"v":668},{"p":"N","k":"cd","s":"n0","t":183,"v":675},

{"p":"O","k":"tr","s":"o1","t":30,"v":628},{"p":"O","k":"tr","s":"o1","t":43,"v":632},{"p":"O","k":"tr","s":"o1","t":67,"v":632},{"p":"O","k":"tr","s":"o1","t":83,"v":630},{"p":"O","k":"tr","s":"o1","t":90,"v":620},{"p":"O","k":"tr","s":"o1","t":97,"v":617},{"p":"O","k":"tr","s":"o1","t":110,"v":617},{"p":"O","k":"tr","s":"o1","t":120,"v":613},{"p":"O","k":"tr","s":"o1","t":133,"v":617},{"p":"O","k":"tr","s":"o1","t":150,"v":620},{"p":"O","k":"tr","s":"o1","t":167,"v":622},{"p":"O","k":"tr","s":"o1","t":177,"v":617},{"p":"O","k":"tr","s":"o1","t":187,"v":613},{"p":"O","k":"tr","s":"o1","t":197,"v":613},
{"p":"O","k":"tr","s":"o2","t":30,"v":630},{"p":"O","k":"tr","s":"o2","t":43,"v":635},{"p":"O","k":"tr","s":"o2","t":67,"v":633},{"p":"O","k":"tr","s":"o2","t":87,"v":630},{"p":"O","k":"tr","s":"o2","t":100,"v":625},{"p":"O","k":"tr","s":"o2","t":117,"v":622},{"p":"O","k":"tr","s":"o2","t":133,"v":622},{"p":"O","k":"tr","s":"o2","t":150,"v":623},{"p":"O","k":"tr","s":"o2","t":167,"v":625},{"p":"O","k":"tr","s":"o2","t":180,"v":622},{"p":"O","k":"tr","s":"o2","t":197,"v":618},
{"p":"O","k":"tr","s":"o3","t":30,"v":632},{"p":"O","k":"tr","s":"o3","t":50,"v":634},{"p":"O","k":"tr","s":"o3","t":67,"v":635},{"p":"O","k":"tr","s":"o3","t":90,"v":632},{"p":"O","k":"tr","s":"o3","t":107,"v":622},{"p":"O","k":"tr","s":"o3","t":120,"v":618},{"p":"O","k":"tr","s":"o3","t":140,"v":620},{"p":"O","k":"tr","s":"o3","t":157,"v":623},{"p":"O","k":"tr","s":"o3","t":173,"v":623},{"p":"O","k":"tr","s":"o3","t":187,"v":622},{"p":"O","k":"tr","s":"o3","t":197,"v":620},
{"p":"O","k":"cd","s":"o0","t":30,"v":675},{"p":"O","k":"cd","s":"o0","t":47,"v":675},{"p":"O","k":"cd","s":"o0","t":53,"v":673},{"p":"O","k":"cd","s":"o0","t":67,"v":673},{"p":"O","k":"cd","s":"o0","t":80,"v":668},{"p":"O","k":"cd","s":"o0","t":100,"v":666},{"p":"O","k":"cd","s":"o0","t":133,"v":663},{"p":"O","k":"cd","s":"o0","t":167,"v":663},{"p":"O","k":"cd","s":"o0","t":197,"v":665},

{"p":"P","k":"tr","s":"p1","t":27,"v":628},{"p":"P","k":"tr","s":"p1","t":37,"v":625},{"p":"P","k":"tr","s":"p1","t":47,"v":622},{"p":"P","k":"tr","s":"p1","t":55,"v":617},{"p":"P","k":"tr","s":"p1","t":67,"v":619},{"p":"P","k":"tr","s":"p1","t":77,"v":622},{"p":"P","k":"tr","s":"p1","t":85,"v":621},{"p":"P","k":"tr","s":"p1","t":88,"v":615},
{"p":"P","k":"tr","s":"p1b","t":90,"v":609},{"p":"P","k":"tr","s":"p1b","t":95,"v":592},
{"p":"P","k":"tr","s":"p2","t":27,"v":647},{"p":"P","k":"tr","s":"p2","t":33,"v":640},{"p":"P","k":"tr","s":"p2","t":47,"v":638},{"p":"P","k":"tr","s":"p2","t":67,"v":639},{"p":"P","k":"tr","s":"p2","t":80,"v":641},{"p":"P","k":"tr","s":"p2","t":87,"v":635},{"p":"P","k":"tr","s":"p2","t":95,"v":631},{"p":"P","k":"tr","s":"p2","t":100,"v":635},{"p":"P","k":"tr","s":"p2","t":110,"v":632},{"p":"P","k":"tr","s":"p2","t":117,"v":633},{"p":"P","k":"tr","s":"p2","t":123,"v":632},
{"p":"P","k":"tr","s":"p3","t":45,"v":658},{"p":"P","k":"tr","s":"p3","t":48,"v":650},{"p":"P","k":"tr","s":"p3","t":53,"v":648},{"p":"P","k":"tr","s":"p3","t":60,"v":652},{"p":"P","k":"tr","s":"p3","t":67,"v":658},{"p":"P","k":"tr","s":"p3","t":73,"v":665},{"p":"P","k":"tr","s":"p3","t":83,"v":668},{"p":"P","k":"tr","s":"p3","t":93,"v":668},{"p":"P","k":"tr","s":"p3","t":100,"v":670},
{"p":"P","k":"cd","s":"p0","t":28,"v":677},{"p":"P","k":"cd","s":"p0","t":63,"v":677},{"p":"P","k":"cd","s":"p0","t":67,"v":673},{"p":"P","k":"cd","s":"p0","t":68,"v":684},{"p":"P","k":"cd","s":"p0","t":72,"v":677},{"p":"P","k":"cd","s":"p0","t":75,"v":678},{"p":"P","k":"cd","s":"p0","t":92,"v":677}
]},
"vconcat":[
{"transform":[{"filter":{"field":"p","oneOf":["A","B","C","D","E","F"]}}],
 "facet":{"column":{"field":"p","type":"nominal","header":null}},
 "spacing":0,
 "spec":{"width":200,"height":276,
  "encoding":{"x":{"field":"t","type":"quantitative","scale":{"domain":[0,200]},"axis":null},
              "y":{"field":"v","type":"quantitative","scale":{"domain":[0,276],"reverse":true},"axis":null}},
  "layer":[
   {"transform":[{"filter":"datum.k==='tr'"}],"mark":{"type":"line","order":false,"color":"black","strokeWidth":2.6,"strokeJoin":"round","strokeCap":"round"},"encoding":{"detail":{"field":"s","type":"nominal"}}},
   {"transform":[{"filter":"datum.k==='cd'"}],"mark":{"type":"line","order":false,"color":"black","strokeWidth":3.4,"strokeJoin":"round","strokeCap":"round"},"encoding":{"detail":{"field":"s","type":"nominal"}}},
   {"transform":[{"filter":"datum.k==='ds'"}],"mark":{"type":"line","order":false,"color":"black","strokeWidth":1.5,"strokeDash":[3,3]},"encoding":{"detail":{"field":"s","type":"nominal"}}},
   {"transform":[{"filter":"datum.k==='lt'"}],"mark":{"type":"text","font":"Liberation Sans","fontStyle":"italic","fontWeight":"bold","fontSize":22,"align":"left","baseline":"alphabetic","color":"black"},"encoding":{"text":{"field":"tx","type":"nominal"}}},
   {"transform":[{"filter":"datum.k==='tm'"}],"mark":{"type":"text","font":"Liberation Sans","fontWeight":"bold","fontSize":17,"align":"right","baseline":"alphabetic","color":"black"},"encoding":{"text":{"field":"tx","type":"nominal"}}},
   {"transform":[{"filter":"datum.k==='ts'"}],"mark":{"type":"text","font":"Liberation Sans","fontStyle":"italic","fontWeight":"bold","fontSize":17,"align":"left","baseline":"alphabetic","color":"black"},"encoding":{"text":{"field":"tx","type":"nominal"}}}
  ]}},
{"transform":[{"filter":{"field":"p","oneOf":["G","H","I","J","K","L"]}}],
 "facet":{"column":{"field":"p","type":"nominal","header":null}},
 "spacing":0,
 "spec":{"width":200,"height":262,
  "encoding":{"x":{"field":"t","type":"quantitative","scale":{"domain":[0,200]},"axis":null},
              "y":{"field":"v","type":"quantitative","scale":{"domain":[280,542],"reverse":true},"axis":null}},
  "layer":[
   {"transform":[{"filter":"datum.k==='tr'"}],"mark":{"type":"line","order":false,"color":"black","strokeWidth":2.6,"strokeJoin":"round","strokeCap":"round"},"encoding":{"detail":{"field":"s","type":"nominal"}}},
   {"transform":[{"filter":"datum.k==='cd'"}],"mark":{"type":"line","order":false,"color":"black","strokeWidth":3.4,"strokeJoin":"round","strokeCap":"round"},"encoding":{"detail":{"field":"s","type":"nominal"}}},
   {"transform":[{"filter":"datum.k==='ds'"}],"mark":{"type":"line","order":false,"color":"black","strokeWidth":1.5,"strokeDash":[3,3]},"encoding":{"detail":{"field":"s","type":"nominal"}}},
   {"transform":[{"filter":"datum.k==='lt'"}],"mark":{"type":"text","font":"Liberation Sans","fontStyle":"italic","fontWeight":"bold","fontSize":22,"align":"left","baseline":"alphabetic","color":"black"},"encoding":{"text":{"field":"tx","type":"nominal"}}},
   {"transform":[{"filter":"datum.k==='tm'"}],"mark":{"type":"text","font":"Liberation Sans","fontWeight":"bold","fontSize":17,"align":"right","baseline":"alphabetic","color":"black"},"encoding":{"text":{"field":"tx","type":"nominal"}}},
   {"transform":[{"filter":"datum.k==='ts'"}],"mark":{"type":"text","font":"Liberation Sans","fontStyle":"italic","fontWeight":"bold","fontSize":17,"align":"left","baseline":"alphabetic","color":"black"},"encoding":{"text":{"field":"tx","type":"nominal"}}}
  ]}},
{"transform":[{"filter":{"field":"p","oneOf":["0","M","N","O","P","Z"]}}],
 "facet":{"column":{"field":"p","type":"nominal","header":null}},
 "spacing":0,
 "spec":{"width":200,"height":148,
  "encoding":{"x":{"field":"t","type":"quantitative","scale":{"domain":[0,200]},"axis":null},
              "y":{"field":"v","type":"quantitative","scale":{"domain":[546,694],"reverse":true},"axis":null}},
  "layer":[
   {"transform":[{"filter":"datum.k==='tr'"}],"mark":{"type":"line","order":false,"color":"black","strokeWidth":2.4,"strokeJoin":"round","strokeCap":"round"},"encoding":{"detail":{"field":"s","type":"nominal"}}},
   {"transform":[{"filter":"datum.k==='cd'"}],"mark":{"type":"line","order":false,"color":"black","strokeWidth":3.2,"strokeJoin":"round","strokeCap":"round"},"encoding":{"detail":{"field":"s","type":"nominal"}}},
   {"transform":[{"filter":"datum.k==='lt'"}],"mark":{"type":"text","font":"Liberation Sans","fontStyle":"italic","fontWeight":"bold","fontSize":22,"align":"left","baseline":"alphabetic","color":"black"},"encoding":{"text":{"field":"tx","type":"nominal"}}},
   {"transform":[{"filter":"datum.k==='tm'"}],"mark":{"type":"text","font":"Liberation Sans","fontWeight":"bold","fontSize":17,"align":"right","baseline":"alphabetic","color":"black"},"encoding":{"text":{"field":"tx","type":"nominal"}}},
   {"transform":[{"filter":"datum.k==='ts'"}],"mark":{"type":"text","font":"Liberation Sans","fontStyle":"italic","fontWeight":"bold","fontSize":17,"align":"left","baseline":"alphabetic","color":"black"},"encoding":{"text":{"field":"tx","type":"nominal"}}},
   {"transform":[{"filter":"datum.k==='sn'"}],"mark":{"type":"text","font":"Liberation Sans","fontWeight":"bold","fontSize":17,"align":"left","baseline":"alphabetic","color":"black"},"encoding":{"text":{"field":"tx","type":"nominal"}}},
   {"transform":[{"filter":"datum.k==='si'"}],"mark":{"type":"text","font":"Liberation Sans","fontStyle":"italic","fontWeight":"bold","fontSize":17,"align":"left","baseline":"alphabetic","color":"black"},"encoding":{"text":{"field":"tx","type":"nominal"}}},
   {"transform":[{"filter":"datum.k==='bar'"}],"mark":{"type":"rule","color":"black","strokeWidth":2},"encoding":{"y2":{"field":"v2"}}},
   {"transform":[{"filter":"datum.k==='dot'"}],"mark":{"type":"point","filled":true,"opacity":1,"color":"black","shape":"M-1,-0.4L1,-0.4L1,0.4L-1,0.4Z","size":36}}
  ]}}
]
}
